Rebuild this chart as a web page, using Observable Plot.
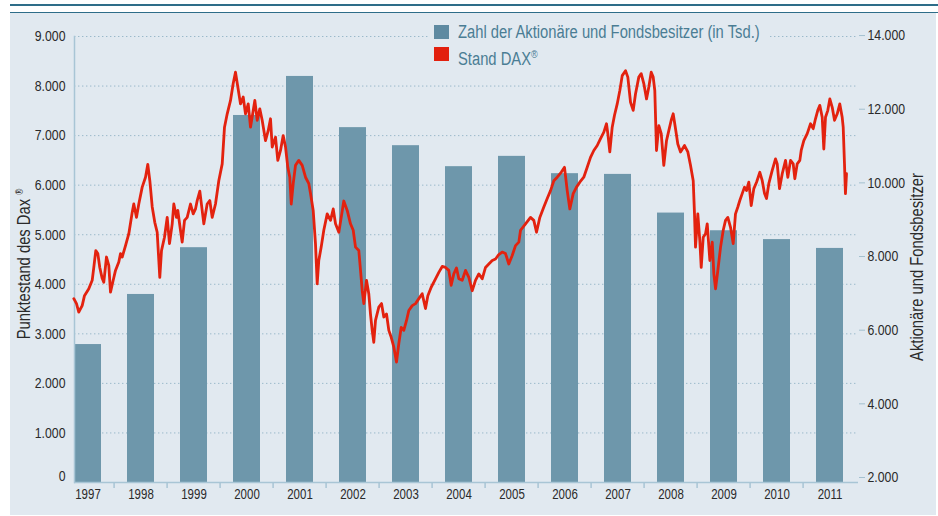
<!DOCTYPE html>
<html><head><meta charset="utf-8">
<script src="https://cdn.jsdelivr.net/npm/d3@7"></script>
<script src="https://cdn.jsdelivr.net/npm/@observablehq/plot@0.6"></script>
<style>
body{margin:0;background:#fff;}
#wrap{position:relative;width:938px;height:516px;overflow:hidden;font-family:"Liberation Sans",Arial,sans-serif;color:#2a2a2a;}
#panel{position:absolute;left:10px;top:13px;width:926px;height:502px;background:#e1e9f0;}
#rule1{position:absolute;left:10px;top:4px;width:928px;height:2px;background:#2e6d89;}
#rule2{position:absolute;left:10px;top:11.5px;width:928px;height:1.5px;background:#2e6d89;}
.layer{position:absolute;left:0;top:0;}
#legend{position:absolute;left:428px;top:22px;width:342px;height:42px;background:#e1e9f0;}
.sw{position:absolute;left:6px;width:15px;height:14px;}
.lt{position:absolute;left:30px;font-size:18px;line-height:20px;color:#4a7d94;white-space:nowrap;transform:scaleX(0.82);transform-origin:left center;}
.title{position:absolute;font-size:18px;white-space:nowrap;transform:translate(-50%,-50%) rotate(-90deg) scaleX(0.82);color:#2a2a2a;}
.title sup{font-size:10px;}
</style></head>
<body>
<div id="wrap">
  <div id="rule1"></div><div id="rule2"></div>
  <div id="panel"></div>
  <div id="plotA" class="layer"></div>
  <div id="legend">
    <div class="sw" style="top:3px;background:#5e8aa1"></div><div class="lt" style="top:0px">Zahl der Aktionäre und Fondsbesitzer (in Tsd.)</div>
    <div class="sw" style="top:25px;background:#e2200e"></div><div class="lt" style="top:22px">Stand DAX<sup style="font-size:11px">®</sup></div>
  </div>
  <div id="plotB" class="layer"></div>
  <div class="title" style="left:24px;top:264px">Punktestand des Dax <sup>®</sup></div>
  <div class="title" style="left:917px;top:267px">Aktionäre und Fondsbesitzer</div>
</div>
<script>
const FONT = '"Liberation Sans",Arial,sans-serif';
const years = [1997,1998,1999,2000,2001,2002,2003,2004,2005,2006,2007,2008,2009,2010,2011];
const holders = [5610,6970,8240,11830,12890,11500,11010,10440,10720,10250,10230,9180,8700,8460,8220];
const leftTicks = [0,1000,2000,3000,4000,5000,6000,7000,8000,9000];
const rightTicks = [2000,4000,6000,8000,10000,12000,14000];

const daxYear = [
1997.143,1997.193,1997.236,1997.300,1997.343,1997.424,1997.488,1997.518,1997.555,1997.593,1997.630,1997.675,1997.705,1997.756,1997.799,1997.831,1997.882,1997.925,1997.987,1998.019,1998.051,1998.113,1998.175,1998.238,1998.268,1998.319,1998.362,1998.426,1998.488,1998.531,1998.569,1998.614,1998.662,1998.707,1998.756,1998.788,1998.844,1998.895,1998.938,1998.989,1999.019,1999.069,1999.094,1999.144,1999.176,1999.220,1999.270,1999.332,1999.383,1999.426,1999.458,1999.507,
1999.582,1999.645,1999.694,1999.739,1999.801,1999.863,1999.927,1999.970,2000.021,2000.083,2000.133,2000.176,2000.220,2000.270,2000.321,2000.364,2000.415,2000.458,2000.539,2000.584,2000.632,2000.677,2000.739,2000.790,2000.833,2000.865,2000.927,2000.970,2001.021,2001.071,2001.115,2001.158,2001.195,2001.222,2001.259,2001.302,2001.364,2001.428,2001.490,2001.552,2001.584,2001.634,2001.677,2001.709,2001.739,
2001.784,2001.833,2001.897,2001.959,2002.010,2002.053,2002.115,2002.160,2002.208,2002.272,2002.334,2002.385,2002.428,2002.490,2002.522,2002.554,2002.584,2002.634,2002.677,2002.709,2002.741,2002.771,2002.803,2002.865,2002.916,2002.959,2003.010,2003.053,2003.098,2003.147,2003.197,2003.240,2003.285,2003.334,2003.385,2003.428,2003.492,2003.554,2003.616,2003.679,2003.741,2003.785,2003.848,2003.929,2003.991,2004.055,2004.117,2004.178,2004.223,2004.272,2004.323,2004.366,2004.430,2004.492,2004.554,2004.617,2004.679,2004.741,2004.805,2004.867,2004.929,2004.993,2005.055,2005.116,2005.180,2005.242,2005.304,2005.368,2005.430,2005.492,
2005.524,2005.618,2005.711,2005.773,2005.824,2005.886,2005.961,2006.025,2006.087,2006.149,2006.212,2006.287,2006.349,2006.400,2006.449,2006.512,2006.574,2006.636,2006.711,2006.775,2006.837,2006.899,2006.963,2007.025,2007.087,2007.137,2007.162,2007.199,2007.244,2007.287,2007.338,2007.387,2007.432,2007.494,2007.537,2007.588,2007.638,2007.681,2007.743,2007.788,2007.837,2007.888,2007.931,2007.976,2008.013,2008.043,2008.075,2008.119,2008.164,2008.212,2008.263,2008.306,2008.351,2008.388,2008.432,2008.475,
2008.526,2008.601,2008.663,2008.713,2008.764,2008.788,2008.807,2008.850,2008.888,2008.914,2008.952,2008.995,2009.027,2009.076,2009.121,2009.151,2009.183,2009.226,2009.277,2009.327,2009.370,2009.413,2009.464,2009.514,2009.557,2009.601,2009.638,2009.683,2009.726,2009.764,2009.807,2009.852,2009.901,2009.952,2010.014,2010.059,2010.102,2010.139,2010.182,2010.246,2010.308,2010.340,2010.383,2010.434,2010.496,2010.539,2010.590,2010.640,2010.670,2010.715,2010.764,2010.790,2010.839,2010.903,2010.965,2011.015,2011.058,2011.101,2011.139,2011.184,2011.214,2011.246,2011.289,2011.327,2011.372,2011.415,2011.466,2011.514,2011.559,2011.578,2011.602,2011.620,2011.640
];
const daxValue = [
3710,3610,3440,3570,3770,3910,4080,4340,4680,4620,4340,4120,4040,4550,4380,3840,4080,4280,4450,4620,4550,4780,5020,5450,5620,5350,5620,5960,6160,6420,6090,5560,5250,5050,4140,4680,4950,5350,4820,5220,5620,5350,5490,5090,4850,5290,5350,5620,5420,5520,5690,5880,
5220,5620,5690,5350,5620,6090,6430,7170,7440,7710,8050,8280,7980,7640,7780,7440,7640,7170,7710,7310,7540,7310,6900,7100,7340,6770,6970,6500,6700,7000,6770,6360,6160,5620,6030,6400,6500,6400,6160,6030,5830,5490,4820,4010,4480,
4750,5090,5420,5290,5520,5220,5050,5350,5680,5490,5220,5090,4750,4680,4280,3870,3610,4080,3810,3400,3070,2830,3270,3540,3610,3340,3400,3070,2930,2730,2430,2800,3130,3070,3270,3470,3570,3610,3710,3810,3510,3770,3940,4110,4240,4360,4340,4280,3980,4210,4330,4110,4080,4280,4140,3870,4080,4210,4110,4340,4410,4480,4510,4600,4650,4620,4410,4580,4780,4850,
5090,5220,5350,5290,5050,5350,5560,5730,5890,6090,6160,6260,6360,5890,5520,5830,5960,6060,6160,6360,6560,6700,6800,6940,7070,7240,7040,6670,7170,7410,7640,7910,8210,8310,8180,7670,7510,7840,8180,8250,8050,7740,7980,8280,8180,7910,6700,7200,7040,6400,6900,7100,7310,7440,7140,6830,
6670,6800,6670,6400,6090,5420,4750,5420,4880,4340,4950,5020,5220,4480,4850,4210,3910,4280,4750,5090,5290,5350,5150,4820,5420,5560,5690,5830,5960,5890,6060,5590,5930,6060,6260,6090,5830,5730,6030,6300,6530,6430,5930,6230,6500,6160,6500,6430,6130,6430,6500,6700,6900,7040,7240,7140,7340,7510,7610,7370,6730,7370,7510,7740,7570,7310,7440,7640,7370,7170,6430,5830,6230
];

// dual axis relation: right-axis value -> left-axis units
const toLeft = r => 101 + (r - 2000) * (8918 / 12000);
const fromLeft = l => 2000 + (l - 101) * (12000 / 8918);
const fmt = v => d3.format(",")(v).replace(/,/g, ".");

const rows = years.map((y, i) => ({year: String(y), holders: holders[i]}));
const W = 938, H = 516, mL = 74, mR = 80, mT = 36, mB = 34;
const padIn = 0.5, padOut = 0.036;
const step = (W - mL - mR) / (years.length - padIn + 2 * padOut);

// condense SVG text horizontally around each label's anchor (narrow typeface look)
function condense(svg, k) {
  svg.querySelectorAll("text").forEach(t => {
    const tr = t.getAttribute("transform");
    if (tr && tr.includes("translate")) {
      t.setAttribute("transform", tr + ` scale(${k},1)`);
    } else {
      const x = +(t.getAttribute("x") || 0);
      t.setAttribute("transform", `translate(${x},0) scale(${k},1) translate(${-x},0)` + (tr ? " " + tr : ""));
    }
  });
}

const plotA = Plot.plot({
  width: W, height: H, marginTop: mT, marginBottom: mB, marginLeft: mL, marginRight: mR,
  style: {background: "transparent", fontFamily: FONT, fontSize: "15px", color: "#2a2a2a", overflow: "visible"},
  x: {type: "band", domain: years.map(String), paddingInner: padIn, paddingOuter: padOut, align: 0},
  y: {domain: [0, 9000]},
  marks: [
    Plot.gridY(leftTicks.slice(1), {stroke: "#9ab9ca", strokeOpacity: 1, strokeDasharray: "1.4,2.6"}),
    Plot.barY(rows, {x: "year", y: d => toLeft(d.holders), fill: "#6e97ab"}),
    Plot.frame({anchor: "left", stroke: "#a8c5d5", strokeWidth: 1.5}),
    Plot.ruleY([0], {stroke: "#a8c5d5", strokeWidth: 1.5}),
    Plot.axisY(leftTicks.slice(1), {tickSize: 0, tickPadding: 9, tickFormat: fmt, label: null, fontSize: 15}),
    Plot.axisY([0], {tickSize: 0, tickPadding: 9, tickFormat: fmt, label: null, fontSize: 15, dy: -6}),
    Plot.axisY(rightTicks.map(toLeft), {anchor: "right", tickSize: 6, tickPadding: 3, stroke: "#a3c0cf", fill: "#2a2a2a",
      tickFormat: d => fmt(Math.round(fromLeft(d) / 1000) * 1000), label: null, fontSize: 15}),
    Plot.axisX(years.slice(1).map(String), {tickSize: 6, tickFormat: () => "", stroke: "#a8c5d5", strokeWidth: 1.5, dx: -step / 2, label: null}),
    Plot.axisX({tickSize: 0, tickPadding: 7, label: null, fontSize: 14})
  ]
});
condense(plotA, 0.82);
document.getElementById("plotA").appendChild(plotA);

const plotB = Plot.plot({
  width: W, height: H, marginTop: mT, marginBottom: mB, marginLeft: 65.7, marginRight: 72.8,
  style: {background: "transparent", overflow: "visible"},
  x: {domain: [1997, 2012], axis: null},
  y: {domain: [0, 9000], axis: null},
  marks: [
    Plot.line(daxValue, {x: daxYear, y: daxValue, stroke: "#e3220f", strokeWidth: 2.8, strokeLinejoin: "round", curve: "linear"})
  ]
});
document.getElementById("plotB").appendChild(plotB);
</script>
</body></html>
